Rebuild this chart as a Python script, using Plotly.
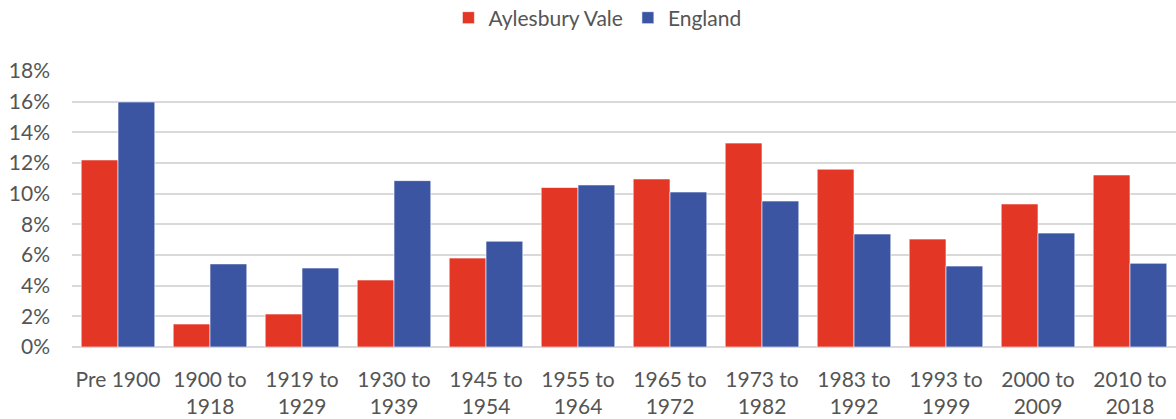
import plotly.graph_objects as go

categories = ["Pre 1900", "1900 to<br>1918", "1919 to<br>1929", "1930 to<br>1939", "1945 to<br>1954",
              "1955 to<br>1964", "1965 to<br>1972", "1973 to<br>1982", "1983 to<br>1992",
              "1993 to<br>1999", "2000 to<br>2009", "2010 to<br>2018"]
aylesbury_vale = [12.2, 1.5, 2.15, 4.37, 5.8, 10.4, 10.96, 13.3, 11.6, 7.04, 9.33, 11.22]
england = [15.98, 5.42, 5.15, 10.85, 6.9, 10.57, 10.11, 9.52, 7.37, 5.28, 7.43, 5.46]
y_ticks = [0, 2, 4, 6, 8, 10, 12, 14, 16, 18]

font_family = "Lato, 'Open Sans', sans-serif"
text_color = "#555555"

fig = go.Figure()
fig.add_trace(go.Bar(name="Aylesbury Vale", x=categories, y=aylesbury_vale,
                     marker=dict(color="#E33625", line=dict(color="rgba(255,255,255,0.6)", width=1))))
fig.add_trace(go.Bar(name="England", x=categories, y=england,
                     marker=dict(color="#3C55A3", line=dict(color="rgba(255,255,255,0.6)", width=1))))

fig.update_layout(
    width=1176, height=419,
    barmode="group", bargap=0.2, bargroupgap=0,
    plot_bgcolor="white", paper_bgcolor="white",
    margin=dict(l=72, r=0, t=71, b=72, autoexpand=False),
    font=dict(family=font_family, size=21, color=text_color),
    legend=dict(orientation="h", x=0.508, xanchor="center", xref="container",
                y=0.957, yanchor="middle", yref="container",
                font=dict(size=21, color=text_color),
                itemwidth=30, traceorder="normal"),
    showlegend=True,
)
fig.update_yaxes(range=[0, 18], tickvals=y_ticks, ticktext=[f"{v}%" for v in y_ticks],
                 showgrid=True, gridcolor="#D9D9D9", gridwidth=1.5, zeroline=True,
                 zerolinecolor="#D9D9D9", zerolinewidth=1.5, ticks="", ticklabelstandoff=21,
                 showline=False)
fig.update_xaxes(showgrid=False, showline=False, ticks="", tickangle=0, ticklabelstandoff=18)

fig.write_html("out.html", config={"displayModeBar": False},
               post_script="document.body.style.margin='0';")
